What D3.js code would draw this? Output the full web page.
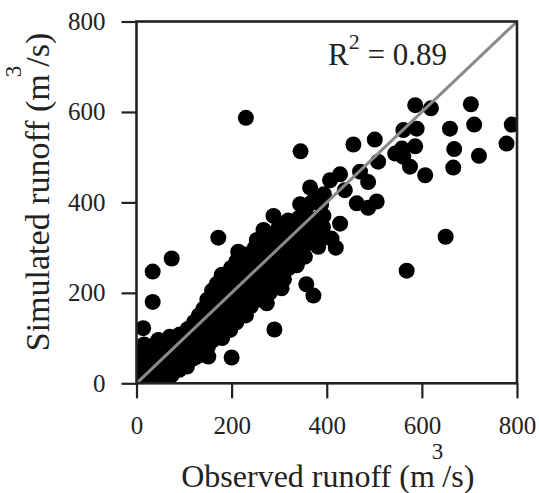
<!DOCTYPE html>
<html><head><meta charset="utf-8">
<script src="https://cdn.jsdelivr.net/npm/d3@7"></script>
<style>
body{margin:0;background:#fff}
svg{display:block}
text{font-family:"Liberation Serif","Times New Roman",serif;fill:#222}
</style>
</head><body>
<svg id="c" width="539" height="493"></svg>
<script>
const xTicks = [0, 200, 400, 600, 800];
const yTicks = [0, 200, 400, 600, 800];
const r2Value = "0.89";

// Observed (x) and simulated (y) runoff, m3/s
const observed = [
  230,345,456,501,508,428,407,470,487,365,394,438,344,463,487,505,288,358,393,428,
  270,172,586,619,703,789,710,659,778,668,720,666,607,589,561,586,544,561,575,558,
  650,568,419,382,354,357,372,410,337,74,34,34,14,290,200,305,214,274,151,106,
  74,14,197,46,70,127,179,267,253,316,
  8,6,10, 14,12,16, 22,24,20, 30,28,32,
  40,42,38,41, 50,52,48, 60,62,58,61, 70,72,68, 80,82,78,
  90,92,88,91, 100,102,98, 110,112,108, 120,122,118,121,
  130,132,128,131, 140,142,138,141, 150,152,148,151,149,
  160,162,158,161,159, 170,172,168,171,169, 180,182,178,181,179,180,
  190,192,188,191,189, 200,202,198,201,199, 210,212,208,211,209,210,
  220,222,218,221,219, 230,232,228,231,229,230, 240,242,238,241,239,
  250,252,248,251,249, 260,262,258,261,259, 270,272,268,271,269,
  280,282,278,281,279, 290,292,288,291,289, 300,302,298,301,299,
  310,312,308,311,309, 320,322,318,321,319, 330,332,328,331,
  340,342,338,341, 350,352,348,351, 360,362,358, 370,372,368,
  380,382,378, 390,392,388
];
const simulated = [
  587,513,528,539,490,462,449,468,445,433,418,427,396,398,388,402,370,365,370,353,
  335,322,615,608,617,572,572,563,530,518,503,477,460,563,560,524,508,501,479,519,
  324,249,300,302,280,219,194,320,261,276,247,180,122,119,57,210,291,177,59,37,
  18,66,118,96,103,59,239,339,317,354,
  8,30,52, 18,42,86, 6,32,62, 20,46,76,
  8,36,60,88, 25,50,75, 10,40,66,92, 30,55,80, 45,70,95,
  30,60,85,108, 50,75,100, 65,90,120, 55,80,105,135,
  70,95,125,150, 85,110,140,165, 80,102,130,160,185,
  95,120,150,175,205, 110,140,165,195,220, 100,130,160,185,215,240,
  125,150,180,205,230, 140,170,195,225,255, 135,160,190,215,245,270,
  155,180,210,240,265, 150,175,200,230,260,285, 170,195,225,250,280,
  190,215,245,270,300, 185,210,240,265,295, 205,230,260,290,315,
  200,225,255,280,310, 220,250,275,300,330, 240,265,295,320,345,
  230,260,285,315,340, 255,280,305,330,360, 270,300,325,350,
  285,310,340,365, 300,325,355,380, 310,340,390, 325,350,400,
  335,365,410, 320,345,395
];

const W = 539, H = 493;
const m = {l: 136.5, r: 22, t: 21.5, b: 109.7};
const svg = d3.select("#c");
const x = d3.scaleLinear().domain([0, 800]).range([m.l, W - m.r]);
const y = d3.scaleLinear().domain([0, 800]).range([H - m.b, m.t]);

svg.append("defs").append("clipPath").attr("id", "pc")
  .append("rect").attr("x", m.l).attr("y", m.t)
  .attr("width", W - m.r - m.l).attr("height", H - m.b - m.t);

const pts = observed.map((o, i) => [o, simulated[i]]);
svg.append("g").attr("clip-path", "url(#pc)")
  .selectAll("circle").data(pts).join("circle")
  .attr("cx", d => x(d[0])).attr("cy", d => y(d[1]))
  .attr("r", 8).attr("fill", "#000");

svg.append("line")
  .attr("x1", x(0)).attr("y1", y(0)).attr("x2", x(800)).attr("y2", y(800))
  .attr("stroke", "#8a8a8a").attr("stroke-width", 3);

// axes
const ax = d3.axisBottom(x).tickValues(xTicks).tickSize(15).tickSizeOuter(0).tickPadding(18);
const ay = d3.axisLeft(y).tickValues(yTicks).tickSize(15).tickSizeOuter(0).tickPadding(16);
const gx = svg.append("g").attr("transform", `translate(0,${y(0)})`).call(ax);
const gy = svg.append("g").attr("transform", `translate(${x(0)},0)`).call(ay);
[gx, gy].forEach(g => {
  g.attr("font-family", null);
  g.select(".domain").remove();
  g.selectAll("line").attr("stroke", "#222").attr("stroke-width", 2.2);
  g.selectAll("text").attr("font-size", 25).attr("fill", "#222");
});

// frame
svg.append("rect").attr("x", x(0)).attr("y", y(800))
  .attr("width", x(800) - x(0)).attr("height", y(0) - y(800))
  .attr("fill", "none").attr("stroke", "#222").attr("stroke-width", 2.6);

// R2 label
const r2 = svg.append("text").attr("x", 328).attr("y", 65).attr("font-size", 31);
r2.append("tspan").text("R");
r2.append("tspan").attr("font-size", 22).attr("dy", -16).text("2");
r2.append("tspan").attr("dy", 16).text(" = " + r2Value);

// axis titles
const xt = svg.append("text").attr("x", (x(0) + x(800)) / 2 + 1).attr("y", 487)
  .attr("text-anchor", "middle").attr("font-size", 32);
xt.append("tspan").text("Observed runoff (m");
xt.append("tspan").attr("font-size", 23).attr("dx", -3).attr("dy", -28).text("3");
xt.append("tspan").attr("dx", -1).attr("dy", 28).text("/s)");

const yt = svg.append("text").attr("transform", `translate(49,${192}) rotate(-90)`)
  .attr("text-anchor", "middle").attr("font-size", 34);
yt.append("tspan").text("Simulated runoff (m");
yt.append("tspan").attr("font-size", 23).attr("dx", -3).attr("dy", -28).text("3");
yt.append("tspan").attr("dx", -1).attr("dy", 28).text("/s)");
</script>
</body></html>
